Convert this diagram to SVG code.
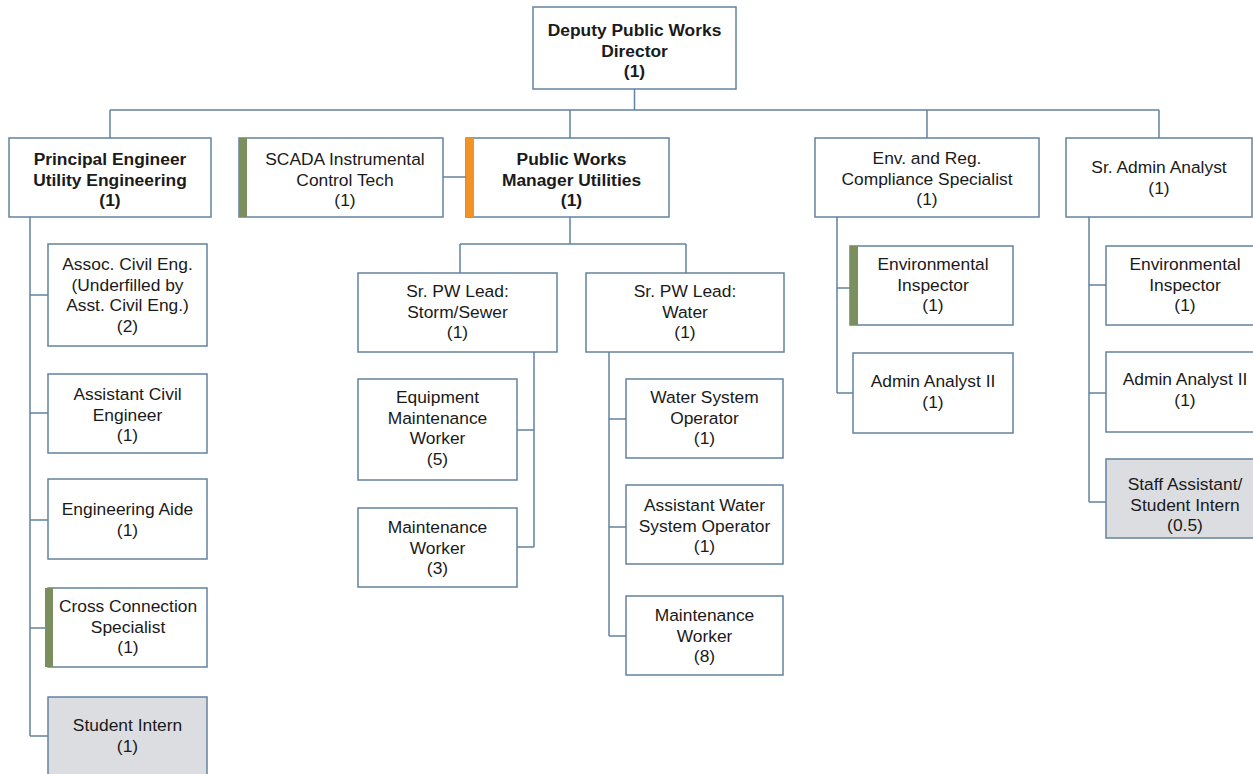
<svg xmlns="http://www.w3.org/2000/svg" width="1253" height="774" viewBox="0 0 1253 774">
  <style>
    .box { fill: #ffffff; stroke: #6283a0; stroke-width: 1.5; }
    .gray { fill: #dcdde0; }
    .bar-green { fill: #7a8e5e; }
    .bar-orange { fill: #f39325; }
    .conn { fill: none; stroke: #6283a0; stroke-width: 1.5; }
    text { font-family: "Liberation Sans", Arial, sans-serif; font-size: 17.4px; fill: #1a1a1a; text-anchor: middle; }
    .b { font-weight: bold; }
  </style>
  <rect width="1253" height="774" fill="#ffffff"/>

  <!-- connectors -->
  <g id="connectors" class="conn">
    <path d="M634.5,89 V110 M110,110 H1159 M110,110 V138 M570,110 V138 M927,110 V138 M1159,110 V138"/>
    <path d="M443,177 H466"/>
    <!-- principal engineer reports -->
    <path d="M30,217 V736 M30,295 H48 M30,413 H48 M30,520 H48 M30,628 H45 M30,736 H48"/>
    <!-- public works manager reports -->
    <path d="M570,217 V244 M460,244 H686 M460,244 V273 M686,244 V273"/>
    <path d="M534,352 V547 M517,430 H534 M517,547 H534"/>
    <path d="M609,352 V636 M609,419 H626 M609,527 H626 M609,636 H626"/>
    <!-- compliance specialist reports -->
    <path d="M837,217 V393 M837,288 H850 M837,393 H853"/>
    <!-- sr admin analyst reports -->
    <path d="M1089,217 V502 M1089,285 H1106 M1089,393 H1106 M1089,502 H1106"/>
  </g>

  <g id="director">
    <rect class="box" x="533" y="7" width="203" height="82"/>
    <text class="b" x="634.5" y="36">Deputy Public Works</text>
    <text class="b" x="634.5" y="56.5">Director</text>
    <text class="b" x="634.5" y="77">(1)</text>
  </g>

  <g id="principal-engineer">
    <rect class="box" x="9" y="138" width="202" height="79"/>
    <text class="b" x="110" y="165">Principal Engineer</text>
    <text class="b" x="110" y="185.5">Utility Engineering</text>
    <text class="b" x="110" y="206">(1)</text>
  </g>

  <g id="scada-tech">
    <rect class="box" x="239" y="138" width="204" height="79"/>
    <rect class="bar-green" x="239" y="138" width="8" height="79"/>
    <text x="345" y="165">SCADA Instrumental</text>
    <text x="345" y="185.5">Control Tech</text>
    <text x="345" y="206">(1)</text>
  </g>

  <g id="pw-manager">
    <rect class="box" x="466" y="138" width="203" height="79"/>
    <rect class="bar-orange" x="466" y="138" width="8" height="79"/>
    <text class="b" x="571.5" y="165">Public Works</text>
    <text class="b" x="571.5" y="185.5">Manager Utilities</text>
    <text class="b" x="571.5" y="206">(1)</text>
  </g>

  <g id="compliance-specialist">
    <rect class="box" x="815" y="138" width="224" height="79"/>
    <text x="927" y="164">Env. and Reg.</text>
    <text x="927" y="184.5">Compliance Specialist</text>
    <text x="927" y="205">(1)</text>
  </g>

  <g id="sr-admin-analyst">
    <rect class="box" x="1066" y="138" width="186" height="79"/>
    <text x="1159" y="173">Sr. Admin Analyst</text>
    <text x="1159" y="193.5">(1)</text>
  </g>

  <!-- principal engineer column -->
  <g id="assoc-civil">
    <rect class="box" x="48" y="244" width="159" height="102"/>
    <text x="127.5" y="270">Assoc. Civil Eng.</text>
    <text x="127.5" y="290.5">(Underfilled by</text>
    <text x="127.5" y="311">Asst. Civil Eng.)</text>
    <text x="127.5" y="331.5">(2)</text>
  </g>

  <g id="assistant-civil">
    <rect class="box" x="48" y="374" width="159" height="79"/>
    <text x="127.5" y="400">Assistant Civil</text>
    <text x="127.5" y="420.5">Engineer</text>
    <text x="127.5" y="441">(1)</text>
  </g>

  <g id="engineering-aide">
    <rect class="box" x="48" y="479" width="159" height="80"/>
    <text x="127.5" y="515">Engineering Aide</text>
    <text x="127.5" y="535.5">(1)</text>
  </g>

  <g id="cross-connection">
    <rect class="box" x="48" y="588" width="159" height="79"/>
    <rect class="bar-green" x="45" y="588" width="8" height="79"/>
    <text x="128" y="612">Cross Connection</text>
    <text x="128" y="632.5">Specialist</text>
    <text x="128" y="653">(1)</text>
  </g>

  <g id="student-intern">
    <rect class="box gray" x="48" y="697" width="159" height="80"/>
    <text x="127.5" y="731">Student Intern</text>
    <text x="127.5" y="751.5">(1)</text>
  </g>

  <!-- public works manager teams -->
  <g id="lead-storm-sewer">
    <rect class="box" x="358" y="273" width="199" height="79"/>
    <text x="457.5" y="297">Sr. PW Lead:</text>
    <text x="457.5" y="317.5">Storm/Sewer</text>
    <text x="457.5" y="338">(1)</text>
  </g>

  <g id="lead-water">
    <rect class="box" x="586" y="273" width="198" height="79"/>
    <text x="685" y="297">Sr. PW Lead:</text>
    <text x="685" y="317.5">Water</text>
    <text x="685" y="338">(1)</text>
  </g>

  <g id="equipment-maintenance">
    <rect class="box" x="358" y="379" width="159" height="101"/>
    <text x="437.5" y="403">Equipment</text>
    <text x="437.5" y="423.5">Maintenance</text>
    <text x="437.5" y="444">Worker</text>
    <text x="437.5" y="464.5">(5)</text>
  </g>

  <g id="maintenance-storm">
    <rect class="box" x="358" y="508" width="159" height="79"/>
    <text x="437.5" y="533">Maintenance</text>
    <text x="437.5" y="553.5">Worker</text>
    <text x="437.5" y="574">(3)</text>
  </g>

  <g id="water-operator">
    <rect class="box" x="626" y="379" width="157" height="79"/>
    <text x="704.5" y="403">Water System</text>
    <text x="704.5" y="423.5">Operator</text>
    <text x="704.5" y="444">(1)</text>
  </g>

  <g id="assistant-water-operator">
    <rect class="box" x="626" y="485" width="157" height="79"/>
    <text x="704.5" y="511">Assistant Water</text>
    <text x="704.5" y="531.5">System Operator</text>
    <text x="704.5" y="552">(1)</text>
  </g>

  <g id="maintenance-water">
    <rect class="box" x="626" y="596" width="157" height="79"/>
    <text x="704.5" y="621">Maintenance</text>
    <text x="704.5" y="641.5">Worker</text>
    <text x="704.5" y="662">(8)</text>
  </g>

  <!-- compliance specialist column -->
  <g id="env-inspector-a">
    <rect class="box" x="850" y="246" width="163" height="79"/>
    <rect class="bar-green" x="850" y="246" width="8" height="79"/>
    <text x="933" y="270">Environmental</text>
    <text x="933" y="290.5">Inspector</text>
    <text x="933" y="311">(1)</text>
  </g>

  <g id="admin-analyst-a">
    <rect class="box" x="853" y="353" width="160" height="80"/>
    <text x="933" y="387">Admin Analyst II</text>
    <text x="933" y="407.5">(1)</text>
  </g>

  <!-- sr admin analyst column -->
  <g id="env-inspector-b">
    <rect class="box" x="1106" y="246" width="158" height="79"/>
    <text x="1185" y="270">Environmental</text>
    <text x="1185" y="290.5">Inspector</text>
    <text x="1185" y="311">(1)</text>
  </g>

  <g id="admin-analyst-b">
    <rect class="box" x="1106" y="352" width="158" height="80"/>
    <text x="1185" y="385">Admin Analyst II</text>
    <text x="1185" y="405.5">(1)</text>
  </g>

  <g id="staff-assistant">
    <rect class="box gray" x="1106" y="459" width="158" height="79"/>
    <text x="1185" y="490">Staff Assistant/</text>
    <text x="1185" y="510.5">Student Intern</text>
    <text x="1185" y="531">(0.5)</text>
  </g>
</svg>
